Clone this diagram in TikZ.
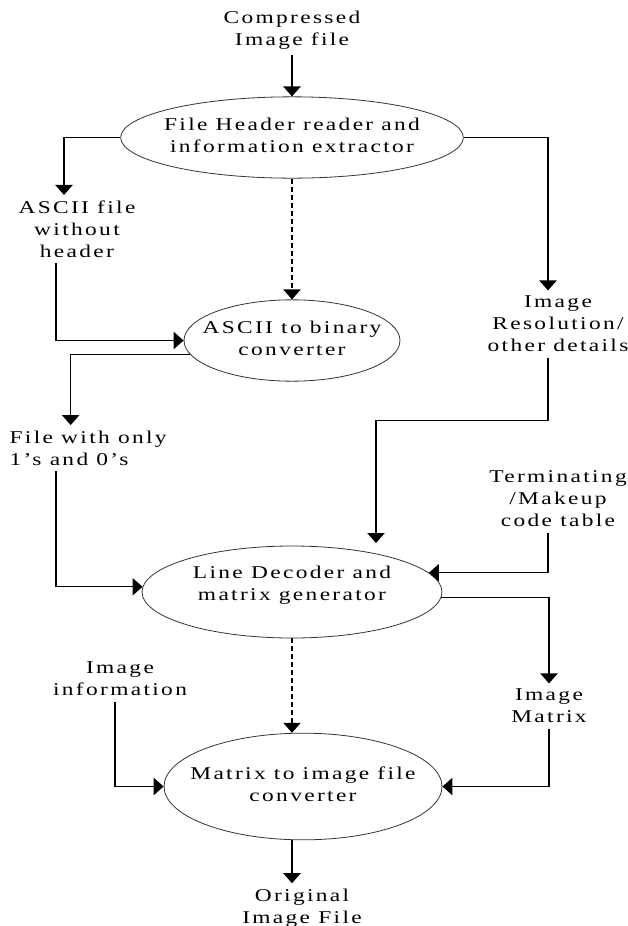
\documentclass[tikz,border=0pt]{standalone}
\usepackage{fontspec}
\setmainfont{Liberation Serif}[FakeStretch=1.3, LetterSpace=13]
\usetikzlibrary{arrows.meta, positioning, shapes.geometric}

\newcommand{\elltext}[2][0pt]{\makebox[0pt]{\raisebox{#1}[\height][\depth]{\begin{tabular}{@{}c@{}}#2\end{tabular}}}}

\begin{document}
\begin{tikzpicture}[
  x=0.75pt, y=-0.75pt,
  font=\fontsize{13.5}{16.5}\selectfont,
  proc/.style={ellipse, draw=black!80, line width=0.6pt, inner sep=0pt},
  lab/.style={align=center, inner sep=4pt},
  flow/.style={-{Triangle[length=7.5pt, width=13pt]}, line width=0.9pt},
  hop/.style={-{Triangle[length=7.5pt, width=13pt]}, line width=0.9pt, dash pattern=on 3.75pt off 2.25pt}
]
\useasboundingbox (0,0) rectangle (628,926);

\node[lab] (top) at (292,30) {Compressed\\Image file};
\node[proc, minimum width=257pt, minimum height=61pt] (e1) at (292,137.5)
  {\elltext{File Header reader and\\information extractor}};
\node[lab] (asc) at (77,229) {ASCII file\\without\\header};
\node[lab] (res) at (558,324) {Image\\Resolution/\\other details};
\node[proc, minimum width=162pt, minimum height=61pt] (e2) at (292,340.5)
  {\elltext{ASCII to binary\\converter}};
\node[lab, align=left, anchor=west] (bin) at (4,448) {File with only\\1's and 0's};
\node[lab] (term) at (558,499) {Terminating\\/Makeup\\code table};
\node[proc, minimum width=225pt, minimum height=69pt] (e3) at (292,592)
  {\elltext[5pt]{Line Decoder and\\matrix generator}};
\node[lab] (info) at (120,679) {Image\\information};
\node[lab] (mat) at (549,706) {Image\\Matrix};
\node[proc, minimum width=208.5pt, minimum height=80pt] (e4) at (303,786.5)
  {\elltext{Matrix to image file\\converter}};
\node[lab] (out) at (302,908) {Original\\Image File};

% the resolution line drops onto the third ellipse off its axis, so it ends
% at a free point just above the border
\coordinate (e3top) at (376,543);

\draw[flow] (top) -- (e1);
\draw[flow] (e1.west) -| ([xshift=-9.75pt]asc.north);
\draw[flow] ([xshift=-15.75pt]asc.south) |- (e2.west);
\draw[flow] (e2.188) -| ([xshift=50pt]bin.north west);
\draw[flow] ([xshift=39pt]bin.south west) |- (e3.178);
\draw[hop] (e1) -- (e2);
\draw[flow] (e1.east) -| ([xshift=-7.5pt]res.north);
\draw[flow] ([xshift=-7.5pt]res.south) -- ++(0,63) -| (e3top);
\draw[flow] ([xshift=-7.5pt]term.south) |- (e3.8);
\draw[flow] (e3.-2) -| (mat.north);
\draw[hop] (e3) -- (e3.south |- e4.north);
\draw[flow] ([xshift=-3.75pt]info.south) |- (e4.west);
\draw[flow] (mat.south) |- (e4.east);
\draw[flow] (e4.south -| e3.south) -- (e3.south |- out.north);

\end{tikzpicture}
\end{document}
